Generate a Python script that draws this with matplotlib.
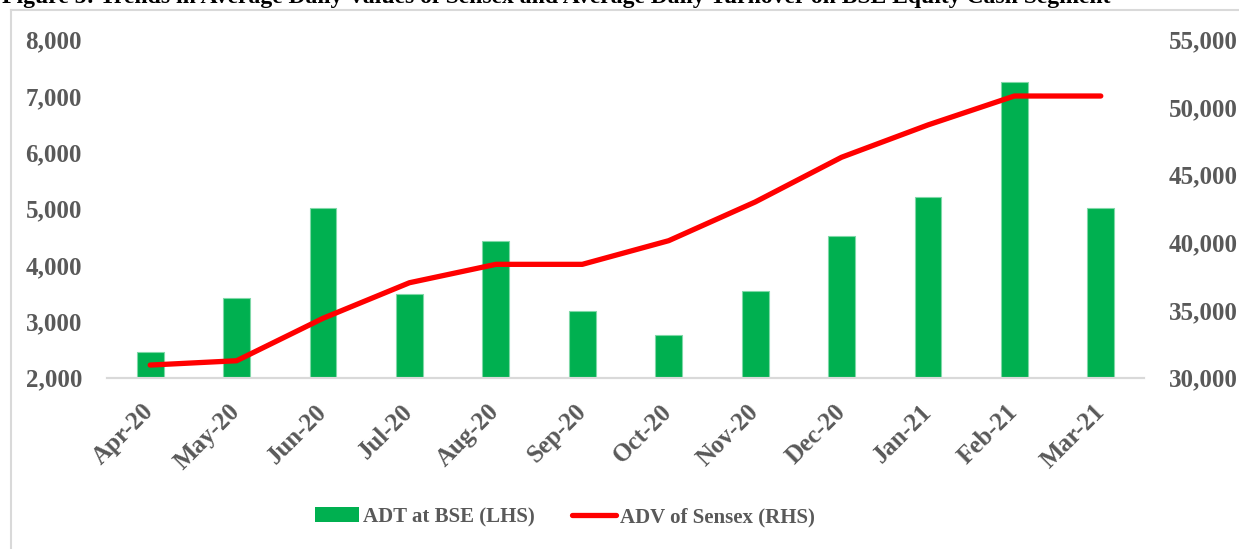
import matplotlib.pyplot as plt
from matplotlib.lines import Line2D
from matplotlib.patches import Patch
from matplotlib.ticker import FuncFormatter

months = ["Apr-20", "May-20", "Jun-20", "Jul-20", "Aug-20", "Sep-20",
          "Oct-20", "Nov-20", "Dec-20", "Jan-21", "Feb-21", "Mar-21"]
adt_bse = [2460, 3410, 5000, 3480, 4420, 3180, 2750, 3530, 4520, 5200, 7250, 5010]
adv_sensex = [30920, 31240, 34380, 37010, 38370, 38370,
              40120, 42980, 46290, 48680, 50820, 50820]

GREEN = "#00B050"
RED = "#FF0000"
GREY = "#595959"

plt.rcParams["font.family"] = ["Liberation Serif", "DejaVu Serif"]
plt.rcParams["font.weight"] = "bold"

W, H = 1239, 549
fig = plt.figure(figsize=(W / 100, H / 100), dpi=100)

# chart area border (only the top and left edges are visible)
fig.add_artist(Line2D([11 / W, 11 / W], [0, 1 - 10 / H], color="#d9d9d9", lw=1.5))
fig.add_artist(Line2D([11 / W, 1], [1 - 10 / H, 1 - 10 / H], color="#d9d9d9", lw=1.5))

# title, partly cut off at the top of the picture as in the source
fig.text(2 / W, 1 - 3 / H,
         "Figure 5: Trends in Average Daily Values of Sensex and Average Daily "
         "Turnover on BSE Equity Cash Segment",
         fontsize=17, fontweight="bold", color="black", va="baseline", ha="left")

ax = fig.add_axes([107 / W, 1 - 377.5 / H, (1144 - 107) / W, (377.5 - 39.5) / H])
x = list(range(len(months)))
ax.bar(x, adt_bse, width=0.31, color=GREEN, edgecolor="#7fd8a7", linewidth=0.8,
       zorder=2)
ax.set_xlim(-0.5, len(months) - 0.5)
ax.set_ylim(2000, 8000)
ax.set_yticks(range(2000, 8001, 1000))
ax.yaxis.set_major_formatter(FuncFormatter(lambda v, p: f"{int(v):,}"))

ax2 = ax.twinx()
ax2.plot(x, adv_sensex, color=RED, lw=3.8, solid_capstyle="round",
         solid_joinstyle="round", zorder=3)
ax2.set_ylim(30000, 55000)
ax2.set_yticks(range(30000, 55001, 5000))
ax2.yaxis.set_major_formatter(FuncFormatter(lambda v, p: f"{int(v):,}"))

for a in (ax, ax2):
    for s in ("top", "right", "left"):
        a.spines[s].set_visible(False)
    a.spines["bottom"].set_color("#d9d9d9")
    a.spines["bottom"].set_linewidth(1.5)
    a.tick_params(length=0, labelsize=18, labelcolor=GREY)

ax.tick_params(axis="y", pad=18)
ax2.tick_params(axis="y", pad=18)
ax.set_xticks(x)
ax.set_xticklabels(months, rotation=45, ha="right", va="center",
                   rotation_mode="anchor")
ax.tick_params(axis="x", pad=22)

handles = [Patch(facecolor=GREEN, edgecolor="none"),
           Line2D([], [], color=RED, lw=3.8, solid_capstyle="round")]
fig.legend(handles, ["ADT at BSE (LHS)", "ADV of Sensex (RHS)"],
           loc="center", bbox_to_anchor=(565 / W, 1 - 517 / H), ncol=2,
           frameon=False, fontsize=15, labelcolor=GREY,
           handlelength=2.1, handleheight=0.75, handletextpad=0.2,
           columnspacing=1.8)

fig.savefig("out.png", dpi=100)
